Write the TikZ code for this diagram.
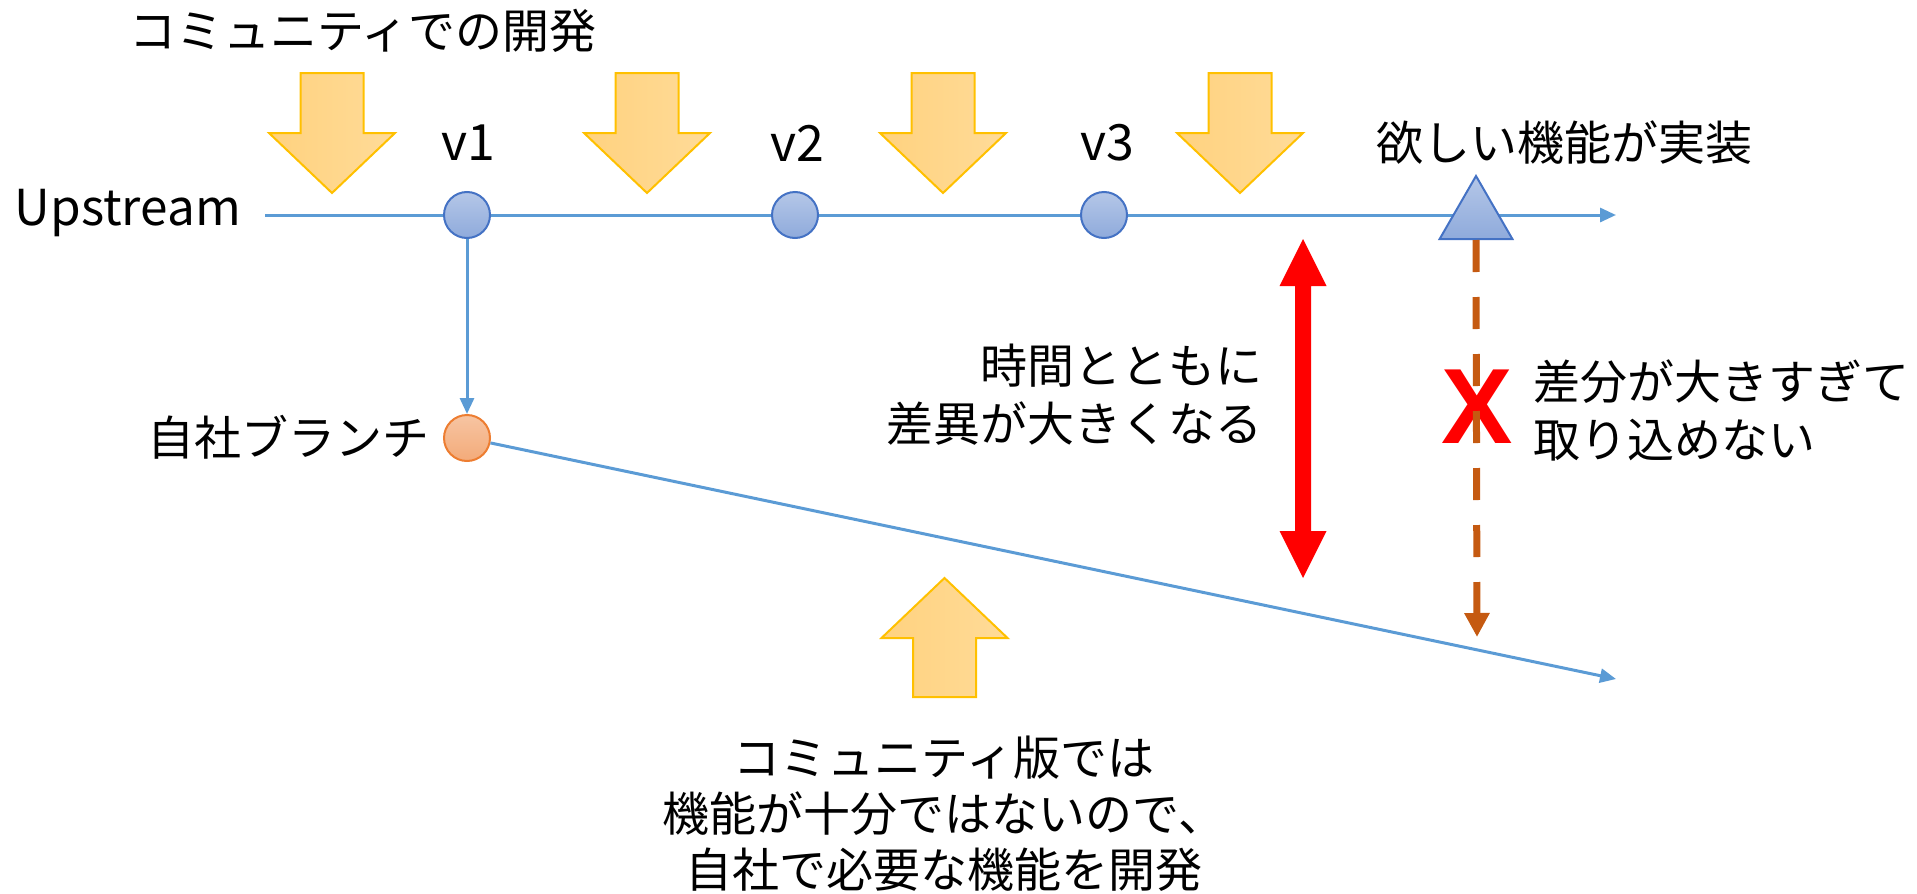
\documentclass[tikz,border=0pt]{standalone}
\usepackage{fontspec}
\setmainfont{Noto Sans CJK JP}
\newfontfamily\xfont{Liberation Sans}
\usetikzlibrary{arrows.meta,shapes.geometric,calc}
\definecolor{lineblue}{HTML}{5B9BD5}
\definecolor{circblue}{HTML}{4472C4}
\definecolor{circorange}{HTML}{ED7D31}
\definecolor{yborder}{HTML}{FFC000}
\definecolor{yleft}{HTML}{FFD27F}
\definecolor{yright}{HTML}{FFDB98}
\definecolor{dashorange}{HTML}{C55A11}
\tikzset{
  txt/.style={font=\fontsize{47}{58}\selectfont, inner sep=0pt},
  yarrow/.style={draw=yborder, line width=2pt, left color=yleft, right color=yright, line join=miter},
  bluecirc/.style={circle, draw=circblue, line width=2pt, top color=circblue!40!white, bottom color=circblue!60!white, minimum size=46pt, inner sep=0pt},
  orangecirc/.style={circle, draw=circorange, line width=2pt, top color=circorange!45!white, bottom color=circorange!65!white, minimum size=46pt, inner sep=0pt},
  blueline/.style={draw=lineblue, line width=3pt, -{Triangle[length=16pt,width=14pt]}},
  downarr/.pic={\path[yarrow] (-31.5,0) -- (31.5,0) -- (31.5,60) -- (63,60) -- (0,120) -- (-63,60) -- (-31.5,60) -- cycle;},
  uparr/.pic={\path[yarrow] (-31.5,119) -- (31.5,119) -- (31.5,60) -- (63,60) -- (0,0) -- (-63,60) -- (-31.5,60) -- cycle;}
}
\begin{document}
\begin{tikzpicture}[x=1pt,y=-1pt]
\useasboundingbox (0,0) rectangle (1917,894);
% yellow arrows
\pic at (332,73) {downarr};
\pic at (647,73) {downarr};
\pic at (943,73) {downarr};
\pic at (1240,73) {downarr};
\pic at (944.5,578) {uparr};
% upstream line
\coordinate (us) at (265,215);
\coordinate (ue) at (1616,215);
\draw[blueline] (us) -- (ue);
\node[bluecirc] (v1) at (467,215) {};
\node[bluecirc] (v2) at (795,215) {};
\node[bluecirc] (v3) at (1104,215) {};
\node[regular polygon, regular polygon sides=3, minimum size=84pt, inner sep=0pt, draw=circblue, line width=2pt, top color=circblue!40!white, bottom color=circblue!60!white] (tri) at (1476,218) {};
% branch
\node[orangecirc] (br) at (467,438) {};
\coordinate (be) at (1616,679);
\draw[blueline] (v1) -- (br);
\draw[blueline] (br) -- (be);
% labels
\node[txt] (t1) at (363,31) {コミュニティでの開発};
\node[txt, font=\fontsize{50}{58}\selectfont] (lv1) at (468,143) {v1};
\node[txt, font=\fontsize{50}{58}\selectfont] (lv2) at (797,143) {v2};
\node[txt, font=\fontsize{50}{58}\selectfont] (lv3) at (1107,143) {v3};
\node[txt] (lfeat) at (1564,143) {欲しい機能が実装};
\node[txt, anchor=east, font=\fontsize{49.5}{58}\selectfont] (lup) at (241,213) {Upstream};
\node[txt, anchor=east] (lbr) at (430,437) {自社ブランチ};
\node[txt, align=right, anchor=east] (ldiff) at (1263,395) {時間とともに\\差異が大きくなる};
\node[txt, align=left, anchor=west] (lno) at (1533,410) {差分が大きすぎて\\取り込めない};
\node[txt, align=center, font=\fontsize{47}{56}\selectfont] (lbot) at (944,814) {コミュニティ版では\\機能が十分ではないので、\\自社で必要な機能を開発};
% red double arrow
\path[fill=red] (1303,239) -- (1326.5,286) -- (1311,286) -- (1311,531) -- (1326.5,531) -- (1303,578) -- (1279.5,531) -- (1295,531) -- (1295,286) -- (1279.5,286) -- cycle;
% X mark
\node[text=red, font=\xfont\bfseries\fontsize{107}{107}\selectfont, inner sep=0pt] (xm) at (1477,407) {X};
% orange dashed
\coordinate (de) at (1477,637);
\draw[dashorange, line width=7pt, dash pattern=on 32pt off 25pt, -{Triangle[length=24pt,width=24pt]}] ($(tri.corner 2)!0.5!(tri.corner 3)$) -- (de);
\end{tikzpicture}
\end{document}
